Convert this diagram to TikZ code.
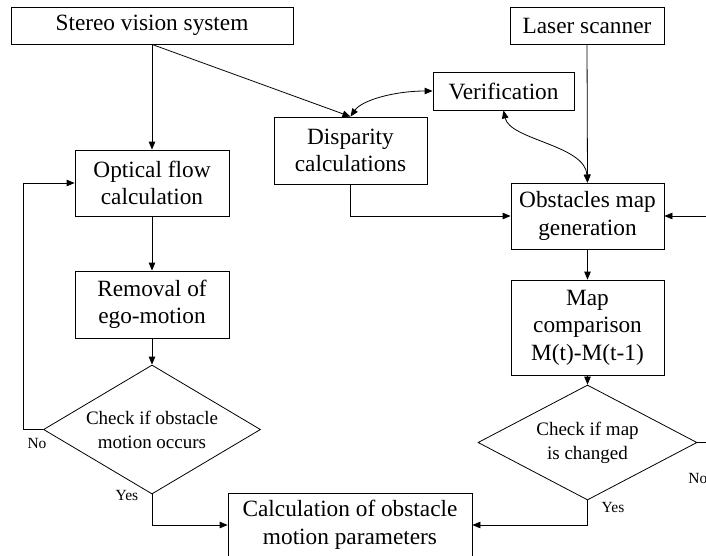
\documentclass[tikz,border=0pt]{standalone}
\usepackage{fontspec}
\setmainfont{Liberation Serif}
\usetikzlibrary{shapes.geometric,arrows.meta}
\begin{document}
\begin{tikzpicture}[x=1pt,y=-1pt,
  every path/.style={line width=0.8pt},
  box/.style={draw, line width=0.8pt, align=center, inner sep=0pt, font=\fontsize{23.3}{27.5}\selectfont},
  dia/.style={draw, diamond, line width=0.8pt, align=center, inner sep=0pt, aspect=1.7, font=\fontsize{19}{24}\selectfont},
  lab/.style={inner sep=0pt, font=\fontsize{15.5}{18}\selectfont},
  arr/.style={-{Triangle[length=8pt,width=6.5pt]}},
  darr/.style={{Triangle[length=8pt,width=6.5pt]}-{Triangle[length=8pt,width=6.5pt]}}]
\useasboundingbox (0,0) rectangle (706,555);
\node[box, minimum width=282pt, minimum height=37pt] (stereo) at (152,25.5) {Stereo vision system};
\node[box, minimum width=154pt, minimum height=37pt] (laser) at (587,25.5) {Laser scanner};
\node[box, minimum width=141pt, minimum height=38pt] (verif) at (503.5,91) {Verification};
\node[box, minimum width=153pt, minimum height=67pt] (disp) at (350.5,150.5) {Disparity\\calculations};
\node[box, minimum width=154pt, minimum height=66pt] (optical) at (152,183) {Optical flow\\calculation};
\node[box, minimum width=153pt, minimum height=66pt] (obst) at (587.5,216) {Obstacles map\\generation};
\node[box, minimum width=154pt, minimum height=67pt] (removal) at (152,304.5) {Removal of\\ego-motion};
\node[box, minimum width=153pt, minimum height=95pt] (mapc) at (587.5,327.5) {Map\\comparison\\M(t)-M(t-1)};
\node[dia, minimum width=217pt, minimum height=129pt] (ld) at (152,429.5) {Check if obstacle\\motion occurs};
\node[dia, minimum width=219pt, minimum height=115pt] (rd) at (587.5,442.5) {Check if map\\is changed};
\node[box, minimum width=244pt, minimum height=64pt] (calc) at (350,525) {Calculation of obstacle\\motion parameters};

\node[lab] (no1) at (37,443) {No};
\node[lab] (yes1) at (127,495) {Yes};
\node[lab, anchor=west] (no2) at (688,478) {No};
\node[lab] (yes2) at (613,507) {Yes};

\coordinate (rin) at (712,216);
\coordinate (rout) at (712,442.5);
\coordinate (lloop) at (23,429.5);

\draw[arr] (stereo.south) -- (optical.north);
\draw[arr] (stereo.south) -- (disp.north);
\draw[darr] (disp.north) .. controls (362,100) and (395,91) .. (verif.west);
\draw[darr] (verif.south) .. controls (510,140) and (585,145) .. (obst.north);
\draw[arr] (laser.south) -- (obst.north);
\draw[arr] (disp.south) |- (obst.west);
\draw[arr] (rin) -- (obst.east);
\draw[arr] (obst.south) -- (mapc.north);
\draw[arr] (mapc.south) -- (rd.north);
\draw (rd.east) -- (rout);
\draw[arr] (rd.south) |- (calc.east);
\draw[arr] (optical.south) -- (removal.north);
\draw[arr] (removal.south) -- (ld.north);
\draw[arr] (ld.west) -- (lloop) |- (optical.west);
\draw[arr] (ld.south) |- (calc.west);
\end{tikzpicture}
\end{document}
